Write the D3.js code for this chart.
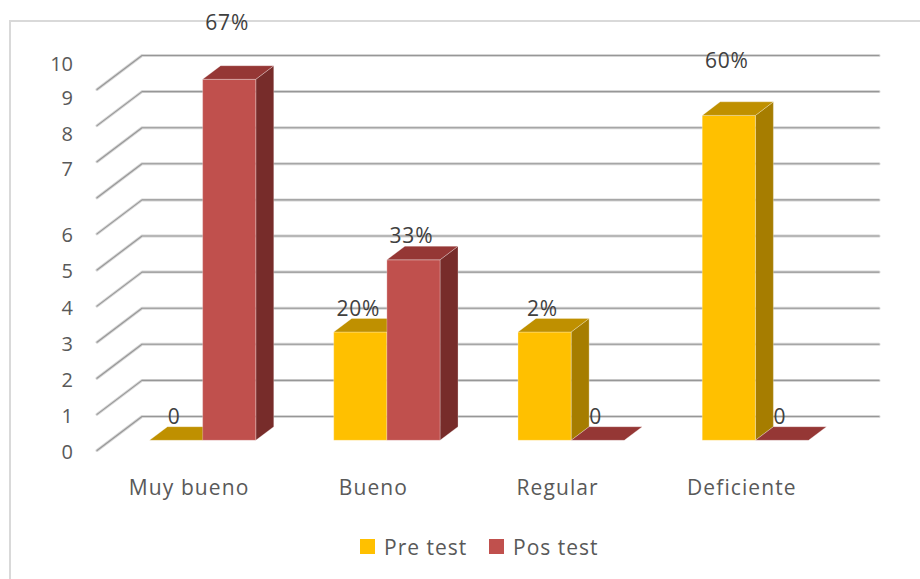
<!DOCTYPE html>
<html>
<head>
<meta charset="utf-8">
<script src="https://cdn.jsdelivr.net/npm/d3@7"></script>
<style>
  html, body { margin: 0; padding: 0; background: #fff; }
  svg { display: block; font-family: "Open Sans", sans-serif; }
</style>
</head>
<body>
<svg id="chart" width="920" height="579"></svg>
<script>
//-- data --//
const categories = ["Muy bueno", "Bueno", "Regular", "Deficiente"];
const seriesNames = ["Pre test", "Pos test"];
const preTest = [0, 3, 3, 9];
const posTest = [10, 5, 0, 0];
const preLabels = ["0", "20%", "2%", "60%"];
const posLabels = ["67%", "33%", "0", "0"];
const tickLabels = ["0", "1", "2", "3", "4", "5", "6", "7", "8", "9", "10"];
const tickAt = [0, 1, 2, 3, 4, 5, 6, 7.85, 8.8, 9.8, 10.75]; // where the labels sit on the axis

const width = 920, height = 579;
const DX = 45, DY = 34;          //-- depth of the 3d floor
const zFront = 0.3, zBack = 0.7; //-- bars sit in the middle of the floor

const colors = {
  "Pre test": {front: "#FFC000", top: "#BF9000", side: "#A67D00"},
  "Pos test": {front: "#C0504D", top: "#953735", side: "#772C2A"}
};

const x0 = d3.scaleBand()
  .domain(categories)
  .range([97, 834])
  .paddingInner(0.423)
  .paddingOuter(0.2115);

const x1 = d3.scaleBand()
  .domain(seriesNames)
  .range([0, x0.bandwidth()]);

const y = d3.scaleLinear()
  .domain([0, 10])
  .range([450.5, 89.5]);

// project a point (x on front plane, value, depth 0..1) to screen
const P = (x, v, z) => [x + z * DX, y(v) - z * DY];
const poly = pts => "M" + pts.map(p => p.join(",")).join("L") + "Z";

const svg = d3.select("#chart");

//-- chart border --//
svg.append("path")
  .attr("d", `M10,${height}V21H${width}`)
  .attr("fill", "none")
  .attr("stroke", "#d9d9d9")
  .attr("stroke-width", 2);

//-- gridlines: diagonal on the side wall + line on the back wall --//
const xLeft = x0.range()[0], xRight = x0.range()[1];
const grid = svg.append("g");
d3.range(0, 11).forEach(v => {
  const a = P(xLeft, v, 0), b = P(xLeft, v, 1), c = P(xRight, v, 1);
  const d = `M${a}L${b}L${c}`;
  grid.append("path").attr("d", d)
    .attr("fill", "none").attr("stroke", "#d6d6d6").attr("stroke-width", 3)
    .attr("stroke-linecap", "round").attr("stroke-linejoin", "round");
  grid.append("path").attr("d", d)
    .attr("fill", "none").attr("stroke", "#979797").attr("stroke-width", 1.1)
    .attr("stroke-linecap", "round").attr("stroke-linejoin", "round");
});

//-- y tick labels --//
svg.append("g")
  .selectAll("text")
  .data(tickLabels)
  .join("text")
  .attr("x", 73)
  .attr("y", (d, i) => y(tickAt[i]))
  .attr("dy", "0.42em")
  .attr("text-anchor", "end")
  .attr("font-size", 20)
  .attr("fill", "#595959")
  .text(d => d);

//-- bars --//
const bars = [];
categories.forEach((c, i) => {
  bars.push({cat: c, s: "Pre test", value: preTest[i], label: preLabels[i]});
  bars.push({cat: c, s: "Pos test", value: posTest[i], label: posLabels[i]});
});

const barG = svg.append("g");
bars.forEach(b => {
  const xl = x0(b.cat) + x1(b.s), xr = xl + x1.bandwidth();
  const col = colors[b.s];
  const g = barG.append("g");
  if (b.value > 0) {
    g.append("path")
      .attr("d", poly([P(xr, 0, zFront), P(xr, 0, zBack), P(xr, b.value, zBack), P(xr, b.value, zFront)]))
      .attr("fill", col.side);
    g.append("path")
      .attr("d", poly([P(xl, 0, zFront), P(xr, 0, zFront), P(xr, b.value, zFront), P(xl, b.value, zFront)]))
      .attr("fill", col.front);
  }
  g.append("path")
    .attr("d", poly([P(xl, b.value, zFront), P(xr, b.value, zFront), P(xr, b.value, zBack), P(xl, b.value, zBack)]))
    .attr("fill", col.top);
  g.selectAll("path")
    .attr("stroke", "rgba(255,255,255,0.35)")
    .attr("stroke-width", 0.8)
    .attr("stroke-linejoin", "round");
});

//-- data labels --//
const raised = {"Muy bueno|Pos test": 33, "Deficiente|Pre test": 31};
svg.append("g")
  .selectAll("text")
  .data(bars)
  .join("text")
  .attr("x", d => P(x0(d.cat) + x1(d.s) + x1.bandwidth() / 2, d.value, zFront)[0] - 2)
  .attr("y", d => P(0, d.value, zFront)[1] - 24 - (raised[d.cat + "|" + d.s] || 0))
  .attr("dy", "0.36em")
  .attr("text-anchor", "middle")
  .attr("font-size", 21)
  .attr("letter-spacing", 0.8)
  .attr("fill", "#404040")
  .text(d => d.label);

//-- category labels --//
svg.append("g")
  .selectAll("text")
  .data(categories)
  .join("text")
  .attr("x", d => x0(d) + x0.bandwidth() / 2)
  .attr("y", 495)
  .attr("text-anchor", "middle")
  .attr("font-size", 21)
  .attr("letter-spacing", 1.1)
  .attr("fill", "#595959")
  .text(d => d);

//-- legend --//
const legend = svg.append("g").attr("transform", "translate(360,539)");
const legendX = [0, 129];
seriesNames.forEach((s, i) => {
  const g = legend.append("g").attr("transform", `translate(${legendX[i]},0)`);
  g.append("rect").attr("width", 15).attr("height", 15).attr("fill", colors[s].front);
  g.append("text")
    .attr("x", 24).attr("y", 16)
    .attr("font-size", 21)
    .attr("letter-spacing", 1)
    .attr("fill", "#595959")
    .text(s);
});
</script>
</body>
</html>
